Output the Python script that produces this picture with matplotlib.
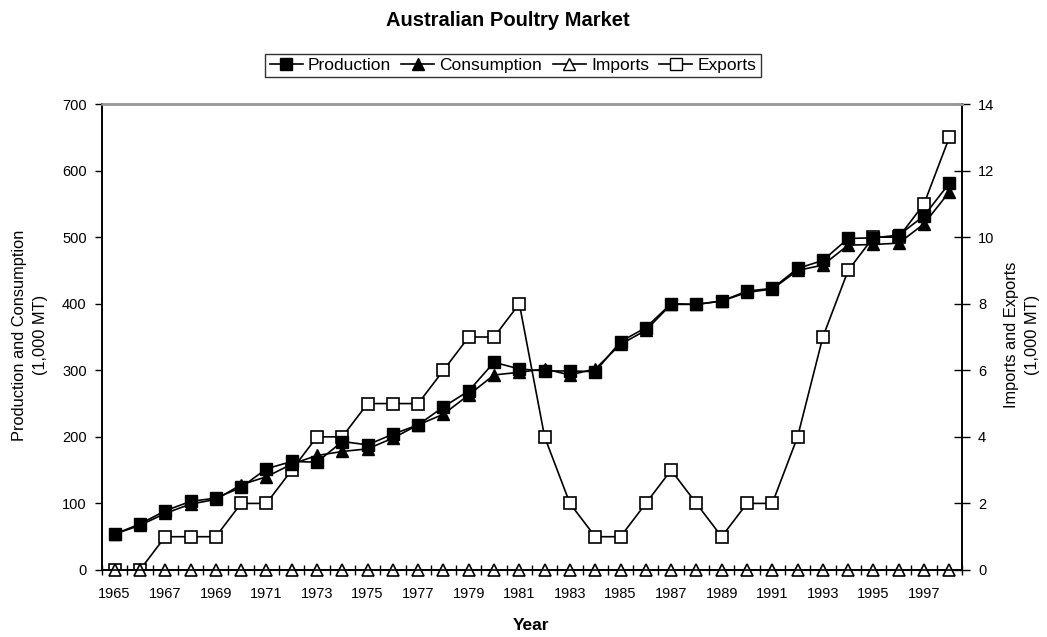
import matplotlib
matplotlib.use("Agg")
import matplotlib.pyplot as plt
from matplotlib.lines import Line2D

plt.rcParams['font.family'] = ['Liberation Sans', 'DejaVu Sans']

years = list(range(1965, 1999))
production = [54, 69, 89, 103, 108, 124, 152, 163, 162, 193, 188, 204, 218, 245, 269,
              312, 302, 299, 299, 298, 343, 364, 400, 399, 404, 419, 423, 453, 465, 498,
              499, 503, 532, 581]
consumption = [54, 67, 85, 99, 106, 128, 140, 159, 172, 178, 182, 198, 218, 234, 263,
               293, 297, 302, 293, 302, 339, 360, 399, 399, 404, 417, 422, 450, 458, 488,
               489, 491, 520, 568]
imports = [0] * 34
exports = [0, 0, 1, 1, 1, 2, 2, 3, 4, 4, 5, 5, 5, 6, 7, 7, 8, 4, 2, 1, 1, 2, 3, 2, 1, 2, 2,
           4, 7, 9, 10, 10, 11, 13]

fig = plt.figure(figsize=(10.47, 6.37), dpi=100)
ax = fig.add_axes([0.0974, 0.1052, 0.8214, 0.7315])
ax2 = ax.twinx()

x = list(range(len(years)))
ms = 8.2
lw = 1.2
ax2.plot(x, exports, color='black', lw=lw, marker='s', markerfacecolor='white',
         markeredgecolor='black', markersize=ms, markeredgewidth=1.2, zorder=2)
ax2.plot(x, imports, color='black', lw=lw, marker='^', markerfacecolor='white',
         markeredgecolor='black', markersize=ms + 0.5, markeredgewidth=1.2, zorder=3, clip_on=False)
ax.plot(x, consumption, color='black', lw=lw, marker='^', markerfacecolor='black',
        markersize=ms + 0.8, zorder=3)
ax.plot(x, production, color='black', lw=lw, marker='s', markerfacecolor='black',
        markersize=ms + 0.3, zorder=4)

ax.set_zorder(ax2.get_zorder() + 1)
ax.patch.set_visible(False)

ax.set_xlim(-0.5, len(years) - 0.5)
ax.set_ylim(0, 700)
ax2.set_ylim(0, 14)
ax.set_yticks(range(0, 701, 100))
ax2.set_yticks(range(0, 15, 2))

ax.set_xticks([i for i, y in enumerate(years) if y % 2 == 1])
ax.set_xticklabels([str(y) for y in years if y % 2 == 1])
ax.set_xticks([i - 0.5 for i in range(len(years) + 1)], minor=True)
ax.tick_params(axis='x', which='major', length=0, labelsize=10.5, pad=12)
ax.tick_params(axis='x', which='minor', direction='inout', length=7, width=1)
ax.tick_params(axis='y', direction='out', length=5, width=1, labelsize=10.5, pad=6)
ax2.tick_params(axis='y', direction='inout', length=11, width=1, labelsize=10.5, pad=6)

for a in (ax, ax2):
    a.spines['top'].set_color('#999999')
    a.spines['top'].set_linewidth(1.8)
    a.spines['left'].set_linewidth(1.2)
    a.spines['right'].set_linewidth(1.2)
    a.spines['bottom'].set_linewidth(1.2)

fig.text(0.507, 1 - 625 / 637, 'Year', fontsize=12.5, fontweight='bold',
         ha='center', va='center')
fig.text(30 / 1047, 0.5 * (0.1052 + 0.8367) + 0.003, 'Production and Consumption\n(1,000 MT)',
         fontsize=11.8, rotation=90, ha='center', va='center', linespacing=1.45,
         multialignment='center')
fig.text(1022 / 1047, 0.5 * (0.1052 + 0.8367) + 0.003, 'Imports and Exports\n(1,000 MT)',
         fontsize=11.8, rotation=90, ha='center', va='center', linespacing=1.45,
         multialignment='center')

fig.text(508 / 1047, 1 - 20 / 637, 'Australian Poultry Market', fontsize=14.5, fontweight='bold',
         ha='center', va='center')

handles = [
    Line2D([], [], color='black', lw=lw, marker='s', markerfacecolor='black', markersize=ms),
    Line2D([], [], color='black', lw=lw, marker='^', markerfacecolor='black', markersize=ms + 0.5),
    Line2D([], [], color='black', lw=lw, marker='^', markerfacecolor='white', markersize=ms + 0.5),
    Line2D([], [], color='black', lw=lw, marker='s', markerfacecolor='white', markersize=ms),
]
leg = fig.legend(handles, ['Production', 'Consumption', 'Imports', 'Exports'],
                 loc='center', bbox_to_anchor=(513 / 1047, 1 - 65.5 / 637), ncol=4, fontsize=12.5,
                 frameon=True, fancybox=False, handlelength=1.9, handletextpad=0.3,
                 columnspacing=0.6, borderpad=0.25, borderaxespad=0)
leg.get_frame().set_edgecolor('black')
leg.get_frame().set_linewidth(1.0)

fig.savefig('out.png', dpi=100)
